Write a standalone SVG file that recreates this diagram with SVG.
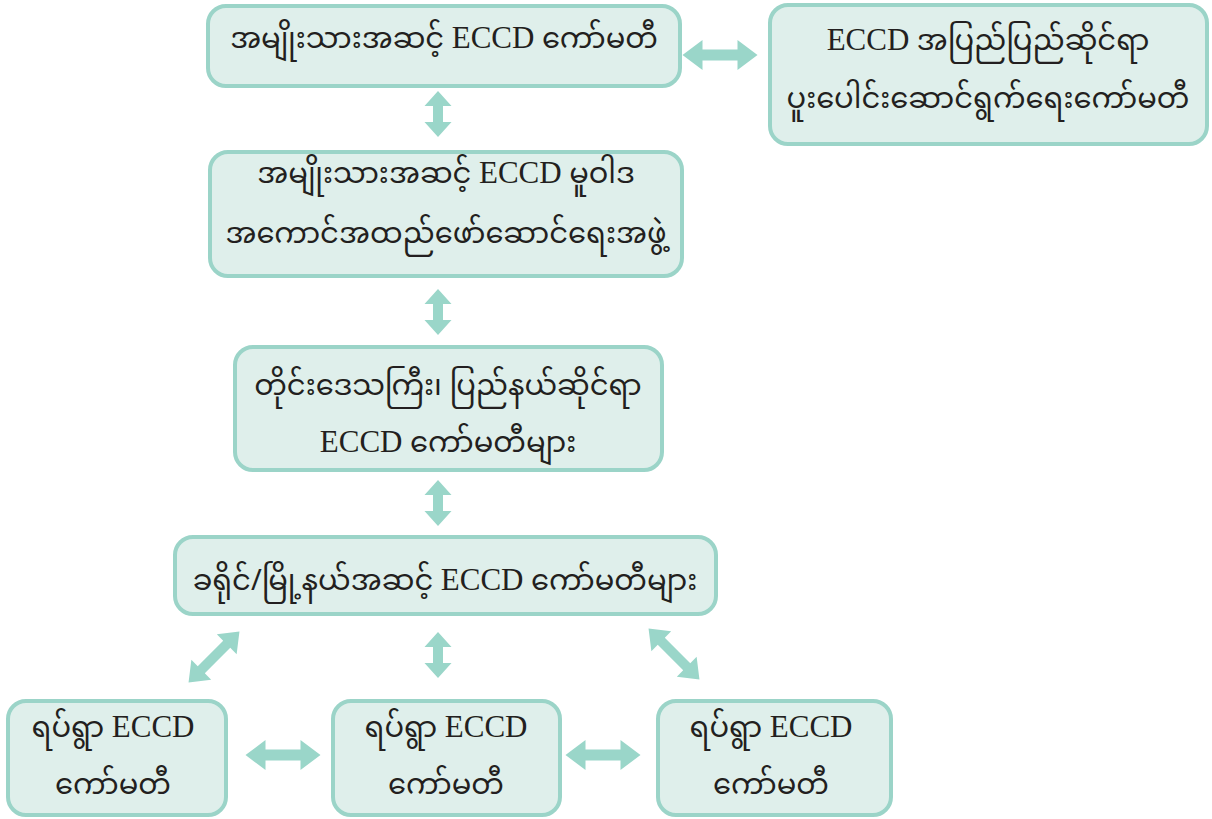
<svg xmlns="http://www.w3.org/2000/svg" width="1212" height="819" viewBox="0 0 1212 819">
<style>
.box{fill:#dfefeb;stroke:#9bd4c8;stroke-width:4}
.t{font-family:"Noto Sans Myanmar","Padauk","Myanmar Text","Liberation Serif","DejaVu Serif",serif;font-size:29px;fill:#231f20;text-anchor:middle}
.e{font-family:"Liberation Serif","DejaVu Serif",serif;font-size:31px}
.arr{fill:#9ad6c9}
</style>
<defs>
<path id="hl" d="M -37.5 0 L -17.5 -15 L -17.5 -5.5 L 17.5 -5.5 L 17.5 -15 L 37.5 0 L 17.5 15 L 17.5 5.5 L -17.5 5.5 L -17.5 15 Z"/>
<path id="vs" d="M -23 0 L -8 -13.5 L -8 -5 L 8 -5 L 8 -13.5 L 23 0 L 8 13.5 L 8 5 L -8 5 L -8 13.5 Z"/>
<path id="dg" d="M -36 0 L -18 -14 L -18 -5 L 18 -5 L 18 -14 L 36 0 L 18 14 L 18 5 L -18 5 L -18 14 Z"/>
</defs>
<rect width="1212" height="819" fill="#ffffff"/>
<g id="connectors" class="arr">
<use href="#hl" x="720" y="55"/>
<use href="#vs" transform="translate(438,114) rotate(90)"/>
<use href="#vs" transform="translate(438,312) rotate(90)"/>
<use href="#vs" transform="translate(438,503) rotate(90)"/>
<use href="#vs" transform="translate(438,655) rotate(90)"/>
<use href="#dg" transform="translate(214,657) rotate(-45)"/>
<use href="#dg" transform="translate(674,654) rotate(45)"/>
<use href="#hl" x="283" y="755"/>
<use href="#hl" x="603" y="755"/>
</g>
<g id="n1"><rect class="box" x="208" y="6" width="472" height="80" rx="18"/>
<text class="t" x="444" y="48">အမျိုးသားအဆင့်  <tspan class="e">ECCD</tspan> ကော်မတီ</text></g>
<g id="n2"><rect class="box" x="770" y="5" width="437" height="139" rx="18"/>
<text class="t" x="988" y="50"><tspan class="e">ECCD</tspan> အပြည်ပြည်ဆိုင်ရာ</text>
<text class="t" x="988" y="108">ပူးပေါင်းဆောင်ရွက်ရေးကော်မတီ</text></g>
<g id="n3"><rect class="box" x="210" y="152" width="472" height="124" rx="18"/>
<text class="t" x="446" y="183">အမျိုးသားအဆင့် <tspan class="e">ECCD</tspan> မူဝါဒ</text>
<text class="t" x="446" y="243">အကောင်အထည်ဖော်ဆောင်ရေးအဖွဲ့</text></g>
<g id="n4"><rect class="box" x="235" y="347" width="427" height="123" rx="18"/>
<text class="t" x="448" y="395">တိုင်းဒေသကြီး၊ ပြည်နယ်ဆိုင်ရာ</text>
<text class="t" x="448" y="452"><tspan class="e">ECCD</tspan> ကော်မတီများ</text></g>
<g id="n5"><rect class="box" x="175" y="537" width="541" height="77" rx="18"/>
<text class="t" x="445" y="590">ခရိုင်/မြို့နယ်အဆင့်  <tspan class="e">ECCD</tspan> ကော်မတီများ</text></g>
<g id="n6"><rect class="box" x="8" y="701" width="218" height="114" rx="18"/>
<text class="t" x="113" y="737">ရပ်ရွာ  <tspan class="e">ECCD</tspan></text>
<text class="t" x="113" y="794">ကော်မတီ</text></g>
<g id="n7"><rect class="box" x="333" y="701" width="227" height="114" rx="18"/>
<text class="t" x="446" y="737">ရပ်ရွာ  <tspan class="e">ECCD</tspan></text>
<text class="t" x="446" y="794">ကော်မတီ</text></g>
<g id="n8"><rect class="box" x="658" y="701" width="233" height="114" rx="18"/>
<text class="t" x="771" y="737">ရပ်ရွာ  <tspan class="e">ECCD</tspan></text>
<text class="t" x="771" y="794">ကော်မတီ</text></g>
</svg>
